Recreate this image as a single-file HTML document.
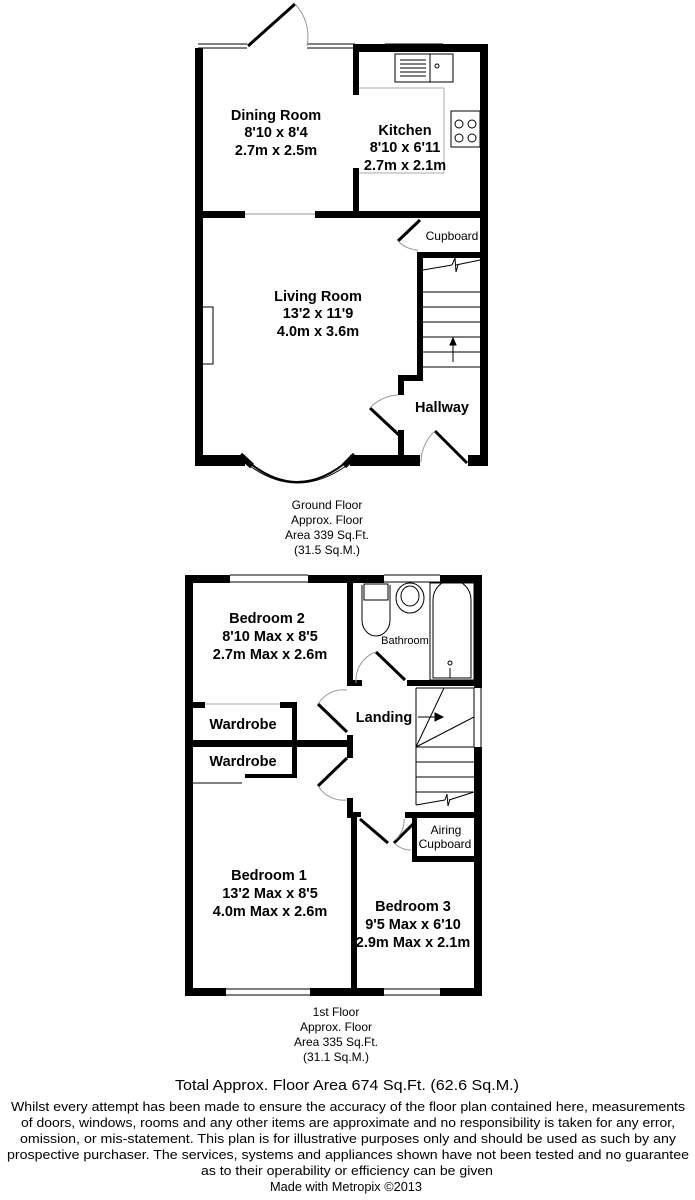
<!DOCTYPE html>
<html><head><meta charset="utf-8"><style>
html,body{margin:0;padding:0;background:#fff;}
svg{display:block;}
text{font-family:"Liberation Sans",Arial,sans-serif;fill:#000;}
.b{font-weight:bold;font-size:14.5px;}
.s{font-size:12px;}
</style></head><body>
<svg width="695" height="1200" viewBox="0 0 695 1200" xmlns="http://www.w3.org/2000/svg">
<g fill="#000">
<rect x="195" y="48" width="8" height="418"/>
<rect x="355" y="44" width="133" height="8"/>
<rect x="480" y="44" width="8" height="422"/>
<rect x="353" y="44" width="6" height="51"/>
<rect x="353" y="168" width="6" height="50"/>
<rect x="195" y="211" width="50" height="7"/>
<rect x="315" y="211" width="173" height="7"/>
<rect x="417" y="252" width="71" height="6"/>
<rect x="417" y="252" width="6" height="128"/>
<rect x="398" y="375" width="25" height="6"/>
<rect x="398" y="375" width="6" height="20"/>
<rect x="398" y="430" width="6" height="36"/>
<rect x="195" y="455" width="50" height="11"/>
<rect x="350" y="455" width="70" height="11"/>
<rect x="468" y="455" width="20" height="11"/>
<rect x="197" y="307" width="5" height="58"/>
<rect x="185" y="575" width="45" height="8"/>
<rect x="308" y="575" width="76" height="8"/>
<rect x="440" y="575" width="42" height="8"/>
<rect x="185" y="575" width="8" height="421"/>
<rect x="474" y="575" width="8" height="113"/>
<rect x="474" y="747" width="8" height="249"/>
<rect x="185" y="988" width="41" height="8"/>
<rect x="310" y="988" width="74" height="8"/>
<rect x="440" y="988" width="42" height="8"/>
<rect x="347" y="583" width="6" height="100"/>
<rect x="347" y="680" width="15" height="6"/>
<rect x="407" y="680" width="75" height="6"/>
<rect x="185" y="702" width="20" height="6"/>
<rect x="280" y="702" width="17" height="6"/>
<rect x="292" y="702" width="5" height="76"/>
<rect x="185" y="740" width="168" height="7"/>
<rect x="347" y="735" width="6" height="23"/>
<rect x="245" y="774" width="52" height="4"/>
<rect x="347" y="798" width="6" height="20"/>
<rect x="351" y="812" width="6" height="180"/>
<rect x="351" y="812" width="10" height="5"/>
<rect x="405" y="812" width="77" height="6"/>
<rect x="412" y="812" width="5" height="50"/>
<rect x="412" y="856" width="70" height="6"/>
</g>
<g fill="none" stroke="#000" stroke-width="1">
<path d="M198 44H247 M198 48H247 M307 44H355 M307 48H355 M385 44H443 M385 50H443"/>
<path d="M245 214H315" stroke="#999"/>
<path d="M248 46 L295 4" stroke-width="3"/>
<path d="M295 4 A47 47 0 0 1 307 46" stroke="#999"/>
<path d="M359 88H444V173H359" stroke="#aaa"/>
<rect x="395" y="54" width="58" height="28"/>
<path d="M430 54V82" />
<path d="M400 60H426M400 64H426M400 68H426M400 72H426M400 76H426"/>
<circle cx="437" cy="66" r="2"/>
<rect x="451" y="111" width="29" height="36"/>
<circle cx="459" cy="124" r="4"/><circle cx="472" cy="124" r="4"/>
<circle cx="459" cy="138" r="4"/><circle cx="472" cy="138" r="4"/>
<rect x="202" y="307" width="11" height="57"/>
<path d="M398 241 L420 220" stroke-width="3"/>
<path d="M398 241 A30 30 0 0 0 418 250" stroke="#999"/>
<path d="M423 270L452 265M456 265L480 260 M423 292H480M423 307H480M423 322H480M423 337H480M423 352H480M423 367H480"/>
<path d="M452 265L455 258L456 272L458 265" />
<path d="M453 362V340"/>
<path d="M450 345L453 338L456 345Z" fill="#000"/>
<path d="M370 408 L400 436" stroke-width="3"/>
<path d="M370 408 A40 40 0 0 1 398 395" stroke="#999"/>
<path d="M435 431 L467 463" stroke-width="3"/>
<path d="M421 462 A42 42 0 0 1 435 431" stroke="#999"/>
<path d="M245 459 Q297 505 350 459" stroke-width="2"/>
<path d="M250 466 Q297 500 346 466"/>
<path d="M240 455 L252 466 M355 455 L344 466" stroke-width="6"/>
<path d="M230 575H308M230 582H308M384 575H440M384 582H440M226 989H310M226 995H310M384 989H440M384 995H440"/>
<path d="M474 688V747M481 688V747"/>
<path d="M362 585V620 A14 16 0 0 0 390 620 V585"/>
<rect x="364" y="584" width="24" height="16"/>
<ellipse cx="410" cy="598" rx="14" ry="15"/>
<ellipse cx="410" cy="596" rx="9" ry="10"/>
<rect x="430" y="583" width="44" height="97"/>
<path d="M433 678V600 A19 20 0 0 1 471 600 V678Z"/>
<circle cx="450" cy="663" r="2"/>
<path d="M450 668V678"/>
<path d="M376 652 L405 680" stroke-width="3"/>
<path d="M356 683 A30 30 0 0 1 376 652" stroke="#999"/>
<path d="M318 704 L347 732" stroke-width="3"/>
<path d="M318 704 A30 30 0 0 1 347 690" stroke="#999"/>
<path d="M318 786 L347 758" stroke-width="3"/>
<path d="M318 786 A30 30 0 0 0 347 800" stroke="#999"/>
<path d="M360 819 L388 843" stroke-width="3"/>
<path d="M394 843 L413 824" stroke-width="3"/>
<path d="M394 843 A25 25 0 0 0 411 850" stroke="#999"/>
<path d="M404 819 A25 25 0 0 1 395 840" stroke="#999"/>
<path d="M205 704H280" stroke="#aaa"/>
<path d="M193 783H242"/>
<path d="M416 688V805 M416 688H474 M416 747L444 688 M416 747L474 717 M416 747H474 M416 762H474 M416 777H474 M416 792H474 M416 805L445 800 M449 800L474 792"/>
<path d="M445 800L447 794L448 806L450 799"/>
<path d="M418 717H435"/>
<path d="M435 713L443 717L435 721Z" fill="#000"/>
</g>
<g text-anchor="middle">
<text class="b" x="276" y="120">Dining Room</text>
<text class="b" x="276" y="137">8'10 x 8'4</text>
<text class="b" x="276" y="155">2.7m x 2.5m</text>
<text class="b" x="405" y="135">Kitchen</text>
<text class="b" x="405" y="152">8'10 x 6'11</text>
<text class="b" x="405" y="170">2.7m x 2.1m</text>
<text class="s" x="452" y="240">Cupboard</text>
<text class="b" x="318" y="301">Living Room</text>
<text class="b" x="318" y="318">13'2 x 11'9</text>
<text class="b" x="318" y="336">4.0m x 3.6m</text>
<text class="b" x="442" y="412">Hallway</text>
<text class="s" x="327" y="509">Ground Floor</text>
<text class="s" x="327" y="524">Approx. Floor</text>
<text class="s" x="327" y="539">Area 339 Sq.Ft.</text>
<text class="s" x="327" y="554">(31.5 Sq.M.)</text>
<text class="b" x="267" y="623">Bedroom 2</text>
<text class="b" x="270" y="641">8'10 Max x 8'5</text>
<text class="b" x="270" y="659">2.7m Max x 2.6m</text>
<text x="405" y="644" style="font-size:11px">Bathroom</text>
<text class="b" x="384" y="722">Landing</text>
<text class="b" x="243" y="729">Wardrobe</text>
<text class="b" x="243" y="766">Wardrobe</text>
<text class="s" x="446" y="834">Airing</text>
<text class="s" x="445" y="848">Cupboard</text>
<text class="b" x="269" y="880">Bedroom 1</text>
<text class="b" x="270" y="898">13'2 Max x 8'5</text>
<text class="b" x="270" y="916">4.0m Max x 2.6m</text>
<text class="b" x="413" y="911">Bedroom 3</text>
<text class="b" x="413" y="929">9'5 Max x 6'10</text>
<text class="b" x="413" y="947">2.9m Max x 2.1m</text>
<text class="s" x="336" y="1016">1st Floor</text>
<text class="s" x="336" y="1031">Approx. Floor</text>
<text class="s" x="336" y="1046">Area 335 Sq.Ft.</text>
<text class="s" x="336" y="1061">(31.1 Sq.M.)</text>
<text x="347" y="1090" style="font-size:15px" textLength="344" lengthAdjust="spacingAndGlyphs">Total Approx. Floor Area 674 Sq.Ft. (62.6 Sq.M.)</text>
<text x="348" y="1111" style="font-size:13px" textLength="674" lengthAdjust="spacingAndGlyphs">Whilst every attempt has been made to ensure the accuracy of the floor plan contained here, measurements</text>
<text x="348" y="1127" style="font-size:13px" textLength="654" lengthAdjust="spacingAndGlyphs">of doors, windows, rooms and any other items are approximate and no responsibility is taken for any error,</text>
<text x="348" y="1143" style="font-size:13px" textLength="656" lengthAdjust="spacingAndGlyphs">omission, or mis-statement. This plan is for illustrative purposes only and should be used as such by any</text>
<text x="348" y="1159" style="font-size:13px" textLength="682" lengthAdjust="spacingAndGlyphs">prospective purchaser. The services, systems and appliances shown have not been tested and no guarantee</text>
<text x="347" y="1175" style="font-size:13px" textLength="292" lengthAdjust="spacingAndGlyphs">as to their operability or efficiency can be given</text>
<text x="346" y="1191" style="font-size:13px" textLength="152" lengthAdjust="spacingAndGlyphs">Made with Metropix ©2013</text>
</g>
</svg>
</body></html>
